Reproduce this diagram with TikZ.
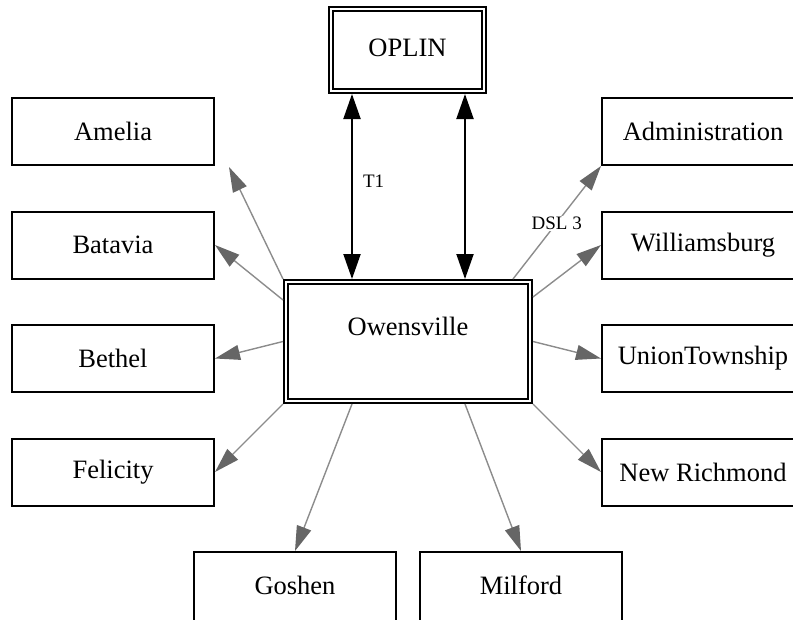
\documentclass[tikz,border=0pt]{standalone}
\usepackage{fontspec}
\setmainfont{Liberation Serif}
\usetikzlibrary{arrows.meta,calc}
\tikzset{
  sbox/.style={draw, line width=2pt, minimum width=202pt, minimum height=67pt,
    inner sep=0pt, outer sep=1pt, font=\fontsize{26.5}{30}\selectfont},
  dbox/.style={draw, line width=2pt, double, double distance=2pt,
    inner sep=0pt, outer sep=3pt, font=\fontsize{26.5}{30}\selectfont},
  blk/.style={line width=2pt, {Triangle[length=25pt,width=17pt]}-{Triangle[length=25pt,width=17pt]}},
  gry/.style={draw=gray!90, line width=1.4pt,
    -{Triangle[length=25pt,width=15pt,fill=gray!80!black,color=gray!80!black]}},
  lbl/.style={font=\fontsize{19}{22}\selectfont, inner sep=1pt}
}
\begin{document}
\begin{tikzpicture}[x=1pt,y=-1pt]
\useasboundingbox (0,0) rectangle (793,619);
\clip (0,0) rectangle (793,619);
% double boxes
\node[dbox, minimum width=153pt, minimum height=82pt, text depth=5pt] (oplin) at (407.5,50) {OPLIN};
\node[dbox, minimum width=244pt, minimum height=119pt, text depth=31pt] (owens) at (408,341.5) {Owensville};
% left boxes
\node[sbox] (amelia) at (113,131.5) {Amelia};
\node[sbox] (batavia) at (113,245) {Batavia};
\node[sbox] (bethel) at (113,358.5) {Bethel};
\node[sbox] (felicity) at (113,472) {Felicity};
% right boxes
\node[sbox] (admin) at (703,131.5) {Administration};
\node[sbox] (wburg) at (703,245) {Williamsburg};
\node[sbox] (union) at (703,358.5) {UnionTownship};
\node[sbox] (newr) at (703,472) {New Richmond};
% bottom boxes (running past the lower edge)
\node[sbox, minimum height=80pt, text depth=13pt] (goshen) at (295,592) {Goshen};
\node[sbox, minimum height=80pt, text depth=13pt] (milford) at (521,592) {Milford};
% black T1 connections
\coordinate (xa) at (352,0);
\coordinate (xb) at (465,0);
\draw[blk] (owens.north -| xa) -- node[lbl, pos=0.53, right, xshift=9pt] {T1} (oplin.south -| xa);
\draw[blk] (owens.north -| xb) -- (oplin.south -| xb);
% gray connections
\coordinate (ameliatip) at ($(amelia.south east)+(14,1)$);
\draw[gry] (owens.north west) -- (ameliatip);
\draw[gry] ($(owens.north west)!0.168!(owens.south west)$) -- (batavia.east);
\draw[gry] (owens.west) -- (bethel.east);
\draw[gry] (owens.south west) -- (felicity.east);
\draw[gry] ($(owens.north west)!0.92!(owens.north east)$) -- node[lbl, pos=0.48, fill=white, text=black, xshift=1.5pt, yshift=1.5pt] {DSL 3} (admin.south west);
\draw[gry] ($(owens.north east)!0.144!(owens.south east)$) -- (wburg.west);
\draw[gry] (owens.east) -- (union.west);
\draw[gry] (owens.south east) -- (newr.west);
\draw[gry] ($(owens.south west)!0.276!(owens.south east)$) -- (goshen.north);
\draw[gry] ($(owens.south west)!0.728!(owens.south east)$) -- (milford.north);
\end{tikzpicture}
\end{document}
